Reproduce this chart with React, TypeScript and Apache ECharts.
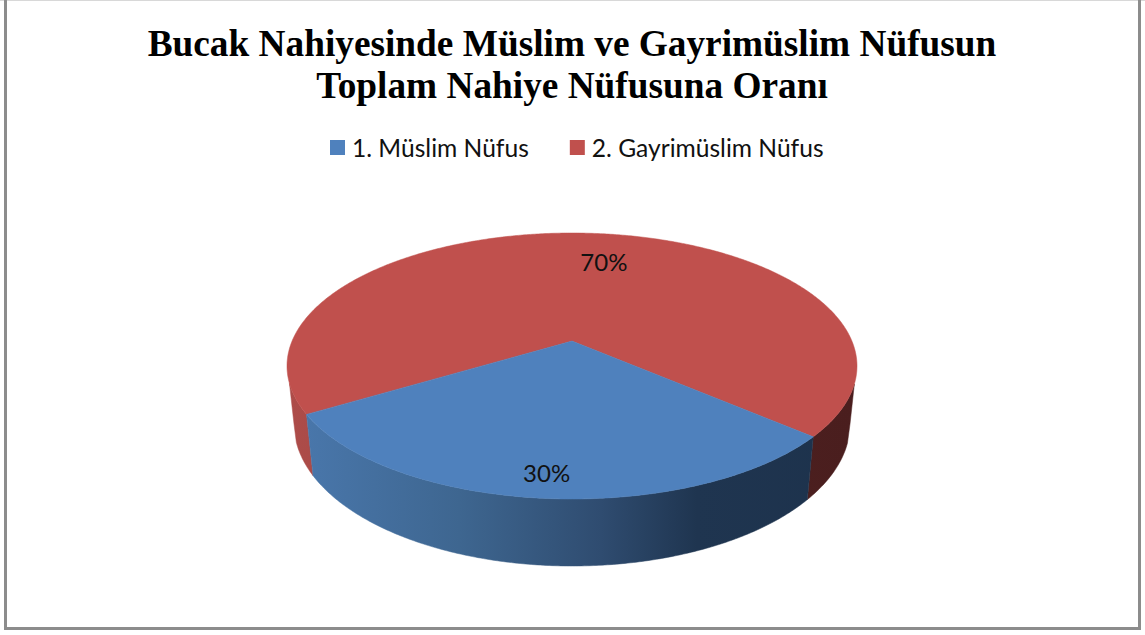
import React, { useEffect, useRef } from "react";
import * as echarts from "echarts";

const titleLines = ["Bucak Nahiyesinde Müslim ve Gayrimüslim Nüfusun", "Toplam Nahiye Nüfusuna Oranı"];
const categories = ["1. Müslim Nüfus", "2. Gayrimüslim Nüfus"];
const values = [30, 70];
const topColors = ["#4F81BD", "#C0504D"];
const wallStops = [
  [[0, "#4A78AD"], [0.3, "#3E6690"], [0.55, "#2F4C70"], [0.72, "#1F3550"], [1, "#1D324C"]],
  [[0, "#AD4C49"], [0.1, "#A84946"], [0.75, "#4D2020"], [1, "#4A1E1E"]],
];
const labelShift = [[-0.5, -1], [14, 16]];

const W = 1145, H = 635;
const TOP = { cx: 572, cy: 366, rx: 285, ry: 133 };
const BOTTOM = { cx: 572, cy: 424, rx: 278, ry: 142 };
const APEX_SHIFT = -25 / 133; // perspective shift of the disc centre
const START_DEG = 40.9;
const SILHOUETTE = 0.128;

// true disc point -> perspective-normalised point in the unit disc
function project(deg: number, f = 1) {
  const r = (deg * Math.PI) / 180;
  const x = f * Math.cos(r), y = f * Math.sin(r);
  const d = 1 + APEX_SHIFT * y;
  return [(x * Math.sqrt(1 - APEX_SHIFT * APEX_SHIFT)) / d, (y + APEX_SHIFT) / d];
}
const onTop = (p: number[]) => [TOP.cx + TOP.rx * p[0], TOP.cy + TOP.ry * p[1]];
const onBottom = (p: number[]) => [BOTTOM.cx + BOTTOM.rx * p[0], BOTTOM.cy + BOTTOM.ry * p[1]];

function makeRender(index: number) {
  const total = values.reduce((a, b) => a + b, 0);
  const before = values.slice(0, index).reduce((a, b) => a + b, 0);
  const from = START_DEG + (before / total) * 360;
  return (_params: any, api: any) => {
    const v = api.value(0);
    const span = (v / total) * 360;
    const to = from + span;
    const samples: number[][] = [];
    for (let i = 0; i <= Math.ceil(span * 2); i++) {
      samples.push(project(from + (span * i) / Math.ceil(span * 2)));
    }
    const runs: number[][][] = [];
    let cur: number[][] | null = null;
    for (const p of samples) {
      if (p[1] >= SILHOUETTE) {
        if (!cur) { cur = []; runs.push(cur); }
        cur.push(p);
      } else cur = null;
    }
    const gradient = new echarts.graphic.LinearGradient(290, 0, 855, 0, wallStops[index].map((s) => ({ offset: s[0] as number, color: s[1] as string })), true);
    const children: any[] = [];
    for (const run of runs) {
      const bottomRun = run.map(onBottom);
      const first = run[0], last = run[run.length - 1];
      // extend down to the widest point of the base where the wall meets the outline
      if (last[1] < SILHOUETTE + 0.03 && last[0] < 0) bottomRun.push([BOTTOM.cx - BOTTOM.rx, BOTTOM.cy]);
      if (first[1] < SILHOUETTE + 0.03 && first[0] > 0) bottomRun.unshift([BOTTOM.cx + BOTTOM.rx, BOTTOM.cy]);
      children.push({
        type: "polygon",
        shape: { points: [...run.map(onTop), ...bottomRun.reverse()] },
        style: { fill: gradient, stroke: gradient, lineWidth: 0.5 },
      });
    }
    const rim = samples.map(onTop);
    children.push({
      type: "polygon",
      shape: { points: [onTop(project(0, 0)), ...rim] },
      style: { fill: topColors[index], stroke: topColors[index], lineWidth: 0.5 },
    });
    const lab = onTop(project((from + to) / 2, 0.87));
    children.push({
      type: "text",
      style: {
        text: Math.round((v / total) * 100) + "%",
        x: lab[0] + labelShift[index][0],
        y: lab[1] + labelShift[index][1],
        fill: "#111",
        font: "24px Lato",
        align: "center",
        verticalAlign: "middle",
      },
    });
    return { type: "group", children };
  };
}

export default function App() {
  const ref = useRef<HTMLDivElement>(null);
  useEffect(() => {
    const chart = echarts.init(ref.current!, undefined, { renderer: "svg" });
    chart.setOption({
      animation: false,
      backgroundColor: "#fff",
      title: {
        text: titleLines.join("\n"),
        left: 567,
        top: 17,
        textAlign: "center",
        textStyle: { fontFamily: "Liberation Serif", fontWeight: "bold", fontSize: 37.3, lineHeight: 42, color: "#000" },
      },
      legend: {
        left: 330,
        top: 135,
        icon: "rect",
        itemWidth: 15,
        itemHeight: 15,
        itemGap: 41,
        padding: 0,
        textStyle: { fontFamily: "Lato", fontSize: 24.6, color: "#111", padding: [0, 0, 0, 2] },
        data: categories,
      },
      graphic: [
        { type: "rect", shape: { x: 0, y: 0, width: W, height: 1 }, style: { fill: "#d8d8d8" } },
        { type: "rect", shape: { x: 4, y: 0, width: 3, height: 630 }, style: { fill: "#8c8c8c" } },
        { type: "rect", shape: { x: 4, y: 627, width: 1137, height: 3 }, style: { fill: "#8c8c8c" } },
        { type: "rect", shape: { x: 1138, y: 0, width: 3, height: 630 }, style: { fill: "#8c8c8c" } },
      ],
      series: categories.map((name, i) => ({
        type: "custom",
        name,
        coordinateSystem: "none",
        itemStyle: { color: topColors[i] },
        data: [[values[i]]],
        z: 2 + (i === 0 ? 1 : 0),
        renderItem: makeRender(i),
      })),
    });
    return () => chart.dispose();
  }, []);
  return <div ref={ref} style={{ position: "fixed", left: 0, top: 0, width: W, height: H }} />;
}
